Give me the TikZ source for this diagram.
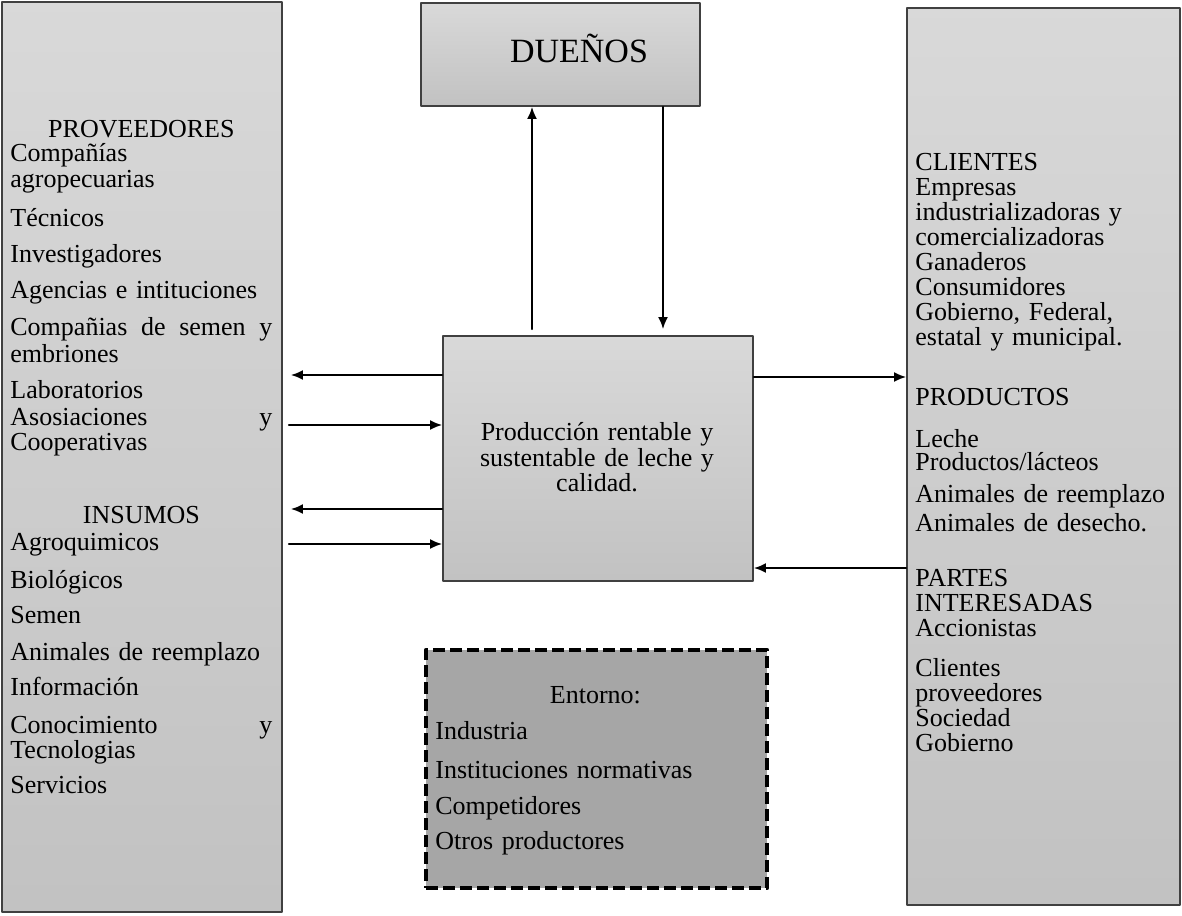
\documentclass[tikz,border=0pt]{standalone}
\usepackage{fontspec}
\setmainfont{Liberation Serif}
\usetikzlibrary{arrows.meta}
\newcommand{\fullline}[1]{\leavevmode\hbox to\hsize{#1}}
\newcommand{\midline}[1]{\fullline{\hfil#1\hfil}}
\begin{document}
\begin{tikzpicture}[x=0.5pt,y=-0.5pt,line cap=round,line join=round,>={Latex[length=6pt,width=5pt]},
  box/.style={draw=black!75,line width=0.9pt,top color=black!15,bottom color=black!24,inner sep=0pt},
  txt/.style={inner sep=0pt,anchor=base west,align=left,font=\fontsize{13}{12.5}\selectfont},
  flow/.style={line width=1pt,->}]
  \useasboundingbox (0,0) rectangle (1182,915);
  \node[box,minimum width=140pt,minimum height=455pt] (prov) at (142,457) {};
  \node[box,minimum width=139.5pt,minimum height=51.5pt] (duenos) at (560.5,54.5) {};
  \node[box,minimum width=136.5pt,minimum height=448.5pt] (cli) at (1043.5,456.5) {};
  \node[box,minimum width=155pt,minimum height=122.5pt] (prod) at (598,458.5) {};
  \node[draw=black,line width=2.3pt,line cap=butt,dash pattern=on 6pt off 2.5pt,fill=black!35,
        minimum width=170.5pt,minimum height=119pt,inner sep=0pt] (ent) at (596.5,769) {};
  \node[inner sep=0pt,anchor=base,font=\fontsize{17}{19}\selectfont] (duenosTxt) at (579,63) {DUEÑOS};
  \node[txt,text width=131pt] (provTxt) at (10,137) {\midline{PROVEEDORES}\\
    Compañías\\ agropecuarias\\[7pt]
    Técnicos\\[5.5pt]
    Investigadores\\[5.5pt]
    Agencias e intituciones\\[6pt]
    \fullline{Compañias\hfill de\hfill semen\hfill y}\\[1pt] embriones\\[5.5pt]
    Laboratorios\\[1pt] \fullline{Asosiaciones\hfill y}\\ Cooperativas\\[24pt]
    \midline{INSUMOS}\\[1pt]
    Agroquimicos\\[6.5pt]
    Biológicos\\[5pt]
    Semen\\[6pt]
    Animales de reemplazo\\[5pt]
    Información\\[6.5pt]
    \fullline{Conocimiento\hfill y}\\ Tecnologias\\[5pt]
    Servicios};
  \node[txt,text width=127pt] (cliTxt) at (915,170) {CLIENTES\\
    Empresas\\ industrializadoras y\\ comercializadoras\\ Ganaderos\\ Consumidores\\
    Gobierno, Federal,\\ estatal y municipal.\\[17.5pt]
    PRODUCTOS\\[8.5pt]
    Leche\\[-1pt] Productos/lácteos\\[3.5pt]
    Animales de reemplazo\\[2pt] Animales de desecho.\\[15pt]
    PARTES\\ INTERESADAS\\ Accionistas\\[7.5pt]
    Clientes\\ proveedores\\ Sociedad\\ Gobierno};
  \node[txt,anchor=base,align=center,text width=120pt] (prodTxt) at (597,440)
    {Producción rentable y\\[0.5pt] sustentable de leche y\\ calidad.};
  \node[txt,text width=160pt] (entTxt) at (435,703) {\midline{Entorno:}\\[5.5pt]
    Industria\\[7pt]
    Instituciones normativas\\[5.5pt]
    Competidores\\[5pt]
    Otros productores};
  \foreach \yy in {375,509}
    \draw[flow,shorten >=4pt] (prod.west |- 0,\yy) -- (prov.east |- 0,\yy);
  \foreach \yy in {425,544}
    \draw[flow,shorten <=3pt] (prov.east |- 0,\yy) -- (prod.west |- 0,\yy);
  \draw[flow,shorten <=3pt] (prod.north -| 532,0) -- (duenos.south -| 532,0);
  \draw[flow,shorten >=3pt] (duenos.south -| 663,0) -- (prod.north -| 663,0);
  \draw[flow] (prod.east |- 0,377) -- (cli.west |- 0,377);
  \draw[flow] (cli.west |- 0,568) -- (prod.east |- 0,568);
\end{tikzpicture}
\end{document}
